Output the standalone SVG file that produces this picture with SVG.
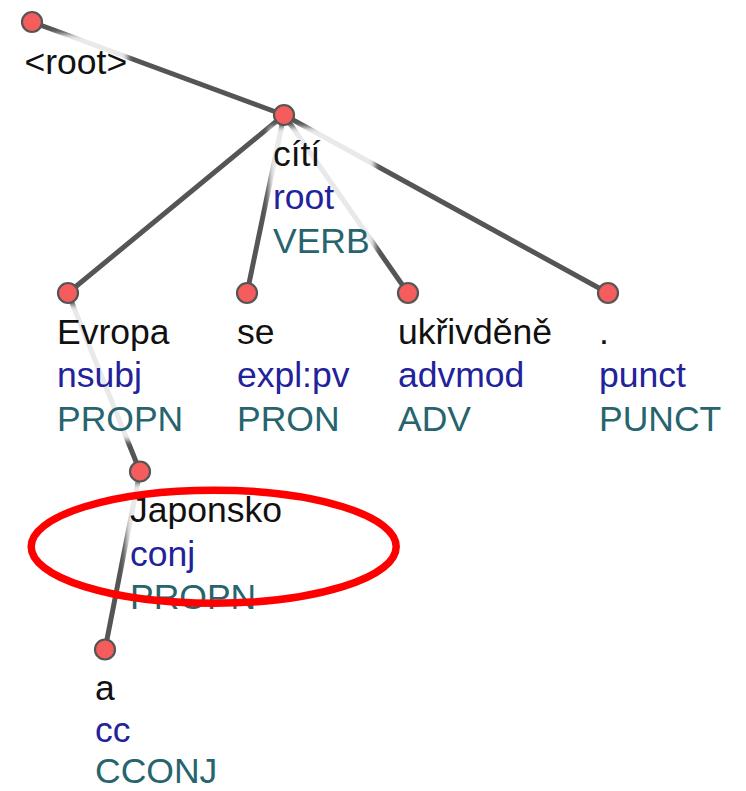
<svg xmlns="http://www.w3.org/2000/svg" width="746" height="791" viewBox="0 0 746 791">
<defs>
<filter id="soft" x="-20%" y="-20%" width="140%" height="140%"><feGaussianBlur stdDeviation="2.5"/></filter>
<style>
.edge{stroke:#555;stroke-width:5;stroke-linecap:round;fill:none}
.halo{fill:#fff;fill-opacity:0.87;filter:url(#soft)}
.node{fill:#f55d5d;stroke:#555;stroke-width:2.2}
text{font-family:"Liberation Sans",Arial,sans-serif;font-size:35.5px}
.form{fill:#111}
.rel{fill:#22229a}
.pos{fill:#26646e}
.mark{fill:none;stroke:#f00;stroke-width:7.5}
</style>
</defs>
<rect width="746" height="791" fill="#fff"/>
<g id="edges">
<line class="edge" x1="32" y1="22" x2="284" y2="115"/>
<line class="edge" x1="284" y1="115" x2="68" y2="293"/>
<line class="edge" x1="284" y1="115" x2="247" y2="293"/>
<line class="edge" x1="284" y1="115" x2="408" y2="293"/>
<line class="edge" x1="284" y1="115" x2="608" y2="293"/>
<line class="edge" x1="68" y1="293" x2="140" y2="471.5"/>
<line class="edge" x1="140" y1="471.5" x2="105" y2="649.5"/>
</g>
<g id="node-root">
<rect class="halo" x="20.5" y="34" width="107" height="50"/>
<circle class="node" cx="32" cy="22" r="10"/>
<text x="24.5" y="74" class="form">&lt;root&gt;</text>
</g>
<g id="node-citi">
<rect class="halo" x="269" y="127" width="106" height="135.5"/>
<circle class="node" cx="284" cy="115" r="10"/>
<text><tspan class="form" x="273" y="165.5">cítí</tspan><tspan class="rel" x="273" y="209">root</tspan><tspan class="pos" x="273" y="252.5">VERB</tspan></text>
</g>
<g id="node-evropa">
<rect class="halo" x="53" y="305" width="136" height="135.5"/>
<circle class="node" cx="68" cy="293" r="10"/>
<text><tspan class="form" x="57" y="343.5">Evropa</tspan><tspan class="rel" x="57" y="387">nsubj</tspan><tspan class="pos" x="57" y="430.5">PROPN</tspan></text>
</g>
<g id="node-se">
<rect class="halo" x="233" y="305" width="122" height="135.5"/>
<circle class="node" cx="247" cy="293" r="10"/>
<text><tspan class="form" x="237" y="343.5">se</tspan><tspan class="rel" x="237" y="387">expl:pv</tspan><tspan class="pos" x="237" y="430.5">PRON</tspan></text>
</g>
<g id="node-ukrivdene">
<rect class="halo" x="394" y="305" width="164" height="135.5"/>
<circle class="node" cx="408" cy="293" r="10"/>
<text><tspan class="form" x="398" y="343.5">ukřivděně</tspan><tspan class="rel" x="398" y="387">advmod</tspan><tspan class="pos" x="398" y="430.5">ADV</tspan></text>
</g>
<g id="node-punct">
<rect class="halo" x="595" y="305" width="131" height="135.5"/>
<circle class="node" cx="608" cy="293" r="10"/>
<text><tspan class="form" x="599" y="343.5">.</tspan><tspan class="rel" x="599" y="387">punct</tspan><tspan class="pos" x="599" y="430.5">PUNCT</tspan></text>
</g>
<g id="node-japonsko">
<rect class="halo" x="126" y="483.5" width="162" height="135.5"/>
<circle class="node" cx="140" cy="471.5" r="10"/>
<text><tspan class="form" x="130" y="522">Japonsko</tspan><tspan class="rel" x="130" y="565.5">conj</tspan><tspan class="pos" x="130" y="609">PROPN</tspan></text>
</g>
<g id="node-a">
<rect class="halo" x="91" y="661.5" width="131" height="127"/>
<circle class="node" cx="105" cy="649.5" r="10"/>
<text><tspan class="form" x="95" y="699.5">a</tspan><tspan class="rel" x="95" y="742">cc</tspan><tspan class="pos" x="95" y="783">CCONJ</tspan></text>
</g>
<g id="highlight">
<ellipse class="mark" cx="213.7" cy="546.7" rx="182.5" ry="56.5"/>
</g>
</svg>
